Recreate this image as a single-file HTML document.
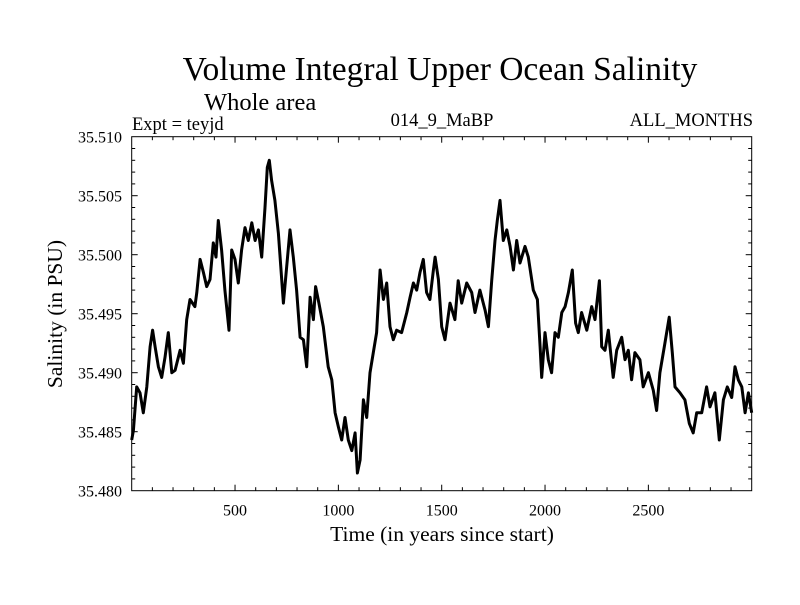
<!DOCTYPE html>
<html><head><meta charset="utf-8"><style>
body{margin:0;background:#fff}
svg text{font-family:"Liberation Serif",serif;fill:#000}
</style></head><body>
<svg id="chart" width="800" height="600" viewBox="0 0 800 600">
<rect width="800" height="600" fill="#fff"/>
<text x="440" y="80" font-size="33.5" text-anchor="middle">Volume Integral Upper Ocean Salinity</text>
<text x="204" y="110" font-size="24.5">Whole area</text>
<text x="132" y="130" font-size="18.5">Expt = teyjd</text>
<text x="442" y="126" font-size="18.5" text-anchor="middle">014_9_MaBP</text>
<text x="753" y="126" font-size="18.5" text-anchor="end">ALL_MONTHS</text>
<text x="442" y="541" font-size="21.5" text-anchor="middle">Time (in years since start)</text>
<text transform="translate(62,314) rotate(-90)" font-size="21.5" text-anchor="middle">Salinity (in PSU)</text>
<g id="axes"></g>
<path id="series" fill="none" stroke="#000" stroke-width="3" stroke-linejoin="round"/>
<rect x="131.7" y="136.7" width="620" height="354" fill="none" stroke="#000" stroke-width="1"/>
</svg>
<script>
const years=[0,8,24,40,56,73,89,101,113,129,145,161,177,194,210,234,250,266,282,306,315,331,347,363,379,395,408,419,435,451,471,484,500,516,532,548,564,581,597,613,629,645,656,666,677,693,710,726,734,750,766,782,798,815,831,847,863,879,890,906,927,951,968,984,1000,1016,1032,1048,1065,1081,1092,1105,1121,1137,1153,1169,1185,1202,1218,1234,1250,1266,1282,1306,1331,1347,1363,1379,1395,1411,1427,1443,1460,1468,1484,1500,1516,1540,1564,1580,1597,1621,1645,1661,1685,1710,1726,1742,1758,1769,1782,1798,1815,1831,1847,1863,1879,1903,1919,1943,1963,1976,1984,2000,2016,2032,2048,2064,2081,2097,2113,2132,2148,2161,2177,2202,2226,2242,2263,2274,2290,2306,2330,2347,2371,2387,2403,2419,2435,2459,2475,2500,2524,2540,2556,2580,2601,2616,2629,2653,2677,2698,2717,2734,2758,2782,2798,2822,2843,2863,2882,2903,2919,2935,2952,2968,2984,3000];
const salinity=[35.4843,35.4851,35.4888,35.4883,35.4866,35.4888,35.4922,35.4936,35.4922,35.4905,35.4896,35.4913,35.4934,35.4900,35.4902,35.4919,35.4908,35.4945,35.4962,35.4956,35.4968,35.4996,35.4985,35.4973,35.4979,35.5010,35.4998,35.5029,35.5004,35.4970,35.4936,35.5004,35.4996,35.4976,35.5004,35.5023,35.5012,35.5027,35.5012,35.5021,35.4998,35.5040,35.5074,35.5080,35.5063,35.5046,35.5018,35.4979,35.4959,35.4990,35.5021,35.4998,35.4970,35.4930,35.4928,35.4905,35.4964,35.4945,35.4973,35.4959,35.4939,35.4905,35.4894,35.4866,35.4854,35.4843,35.4862,35.4843,35.4834,35.4849,35.4815,35.4826,35.4877,35.4862,35.4900,35.4917,35.4934,35.4987,35.4962,35.4976,35.4939,35.4928,35.4936,35.4934,35.4951,35.4964,35.4976,35.4970,35.4985,35.4996,35.4968,35.4962,35.4987,35.4998,35.4979,35.4939,35.4928,35.4959,35.4945,35.4978,35.4959,35.4976,35.4968,35.4951,35.4970,35.4953,35.4939,35.4978,35.5012,35.5029,35.5046,35.5012,35.5021,35.5007,35.4987,35.5012,35.4993,35.5007,35.4998,35.4970,35.4962,35.4922,35.4896,35.4934,35.4911,35.4900,35.4934,35.4930,35.4951,35.4956,35.4968,35.4987,35.4942,35.4934,35.4951,35.4936,35.4956,35.4945,35.4978,35.4922,35.4919,35.4936,35.4896,35.4919,35.4930,35.4911,35.4919,35.4894,35.4917,35.4911,35.4888,35.4900,35.4885,35.4868,35.4900,35.4925,35.4947,35.4917,35.4888,35.4883,35.4877,35.4857,35.4849,35.4866,35.4866,35.4888,35.4871,35.4883,35.4843,35.4877,35.4888,35.4879,35.4905,35.4894,35.4888,35.4866,35.4883,35.4866];
const xTickLabels=[500,1000,1500,2000,2500];
const yTickLabels=["35.480","35.485","35.490","35.495","35.500","35.505","35.510"];
const X0=131.7,X1=751.7,Y0=490.7,Y1=136.7,XMIN=0,XMAX=3000,YMIN=35.480,YMAX=35.510;
function xs(v){return X0+(v-XMIN)/(XMAX-XMIN)*(X1-X0);}
function ys(v){return Y0-(v-YMIN)/(YMAX-YMIN)*(Y0-Y1);}
const NS="http://www.w3.org/2000/svg";
const ax=document.getElementById('axes');
function ln(x1,y1,x2,y2,name){const l=document.createElementNS(NS,'line');l.setAttribute('x1',x1);l.setAttribute('y1',y1);l.setAttribute('x2',x2);l.setAttribute('y2',y2);l.setAttribute('stroke','#000');l.setAttribute('stroke-width','1');


ax.appendChild(l);}
function tx(x,y,s,anchor,name){const t=document.createElementNS(NS,'text');t.setAttribute('x',x);t.setAttribute('y',y);t.setAttribute('font-size','16');t.setAttribute('text-anchor',anchor);t.textContent=s;


ax.appendChild(t);}
for(let v=100;v<XMAX;v+=100){const x=xs(v);const major=v%500===0;const L=major?6:3.5;ln(x,Y0,x,Y0-L,'x-tick');ln(x,Y1,x,Y1+L,'x-tick-top');}
xTickLabels.forEach(v=>tx(xs(v),Y0+25,String(v),'middle','x-tick-label'));
for(let i=1;i<30;i++){const v=YMIN+i*0.001;const y=ys(v);const major=i%5===0;const L=major?6:3.5;ln(X0,y,X0+L,y,'y-tick');ln(X1,y,X1-L,y,'y-tick-right');}
yTickLabels.forEach(s=>tx(122,ys(parseFloat(s))+6,s,'end','y-tick-label'));
let d='';years.forEach((t,i)=>{d+=(i?'L':'M')+xs(t).toFixed(1)+' '+ys(salinity[i]).toFixed(1);});
document.getElementById('series').setAttribute('d',d);
</script>
</body></html>
